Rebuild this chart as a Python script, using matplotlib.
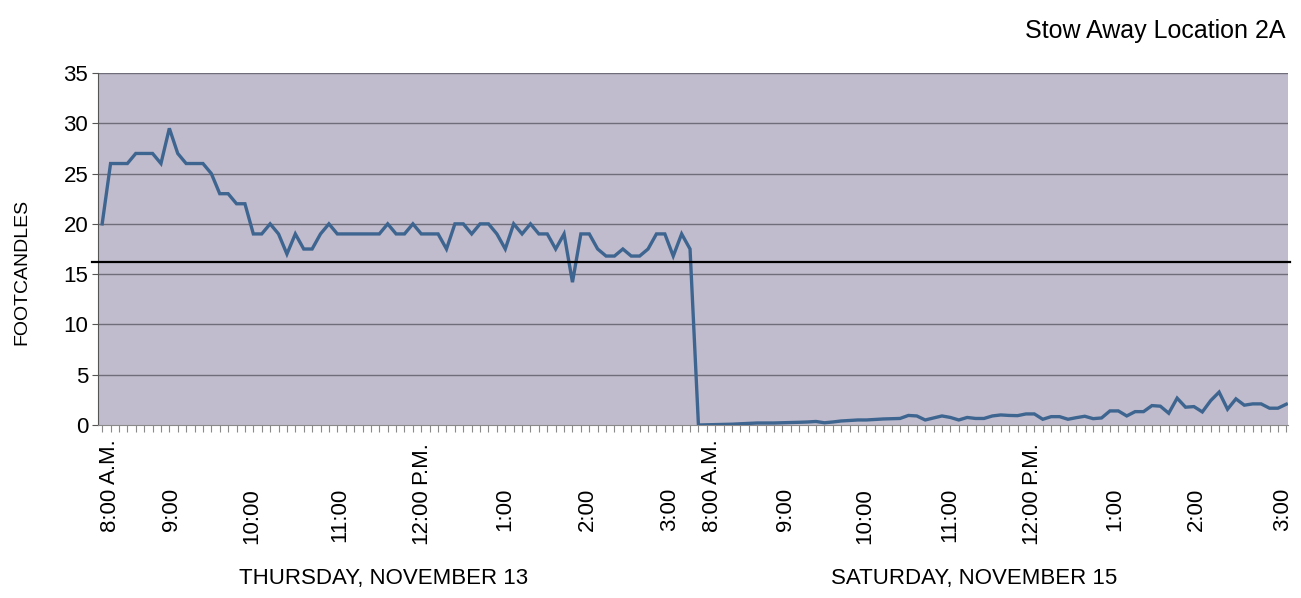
import matplotlib
matplotlib.use("Agg")
import matplotlib.pyplot as plt
import matplotlib.transforms as mtransforms
import numpy as np

# footcandle readings, one every ~6 minutes
thursday = [
    20, 26, 26, 26, 27, 27, 27, 26, 29.5, 27,
    26, 26, 26, 25, 23, 23, 22, 22, 19, 19,
    20, 19, 17, 19, 17.5, 17.5, 19, 20, 19, 19,
    19, 19, 19, 19, 20, 19, 19, 20, 19, 19,
    19, 17.5, 20, 20, 19, 20, 20, 19, 17.5, 20,
    19, 20, 19, 19, 17.5, 19, 14.2, 19, 19, 17.5,
    16.8, 16.8, 17.5, 16.8, 16.8, 17.5, 19, 19, 16.8, 19, 17.5,
]
saturday = [
    0, 0.02, 0.04, 0.06, 0.08, 0.12, 0.16, 0.2, 0.2, 0.2,
    0.22, 0.24, 0.27, 0.3, 0.35, 0.22, 0.3, 0.4, 0.45, 0.5,
    0.5, 0.55, 0.6, 0.62, 0.65, 0.95, 0.9, 0.5, 0.7, 0.9,
    0.75, 0.5, 0.75, 0.65, 0.65, 0.9, 1.0, 0.95, 0.93, 1.1,
    1.1, 0.57, 0.83, 0.83, 0.57, 0.73, 0.87, 0.63, 0.7, 1.4,
    1.4, 0.9, 1.33, 1.33, 1.93, 1.87, 1.17, 2.67, 1.77, 1.83,
    1.3, 2.43, 3.27, 1.57, 2.6, 1.97, 2.1, 2.1, 1.67, 1.67, 2.07,
]
threshold = 16.2

hour_labels = ["8:00", "9:00", "10:00", "11:00", "12:00", "1:00", "2:00", "3:00"]
hour_suffix = ["A.M.", "", "", "", "P.M.", "", "", ""]
day_labels = ["THURSDAY, NOVEMBER 13", "SATURDAY, NOVEMBER 15"]
title = "Stow Away Location 2A"
y_ticks = [0, 5, 10, 15, 20, 25, 30, 35]

# label positions (in sample index units), as placed on the original
thu_label_pos = [0.9, 8.3, 17.8, 28.3, 37.9, 47.9, 57.8, 67.6]
sat_label_pos = [72.6, 81.4, 90.8, 100.9, 110.6, 120.6, 130.3, 140.6]

BG = "#C0BCCD"
LINE = "#3E6590"
FONT = ["Liberation Sans", "DejaVu Sans"]

values = np.array(thursday + saturday, dtype=float)
x = np.arange(len(values))

fig = plt.figure(figsize=(13.01, 5.98), dpi=100)
ax = fig.add_axes([0.0753, 0.2893, 0.9147, 0.5886])
ax.set_facecolor(BG)

for v in y_ticks[1:]:
    ax.axhline(v, color="#6F6D7A", lw=1.0, zorder=1)

ax.plot(x, values, color=LINE, lw=2.4, zorder=3, solid_joinstyle="miter")
ax.axhline(threshold, xmin=-0.005, xmax=1.002, color="black", lw=1.6, zorder=4, clip_on=False)

ax.set_xlim(-0.5, 141.2)
ax.set_ylim(0, 35)
ax.set_yticks(y_ticks)
ax.set_yticklabels([str(v) for v in y_ticks], fontsize=16, family=FONT)
ax.tick_params(axis="y", length=4, color="#555555", pad=3)

ax.set_xticks([])
ax.set_xticks(x, minor=True)
ax.tick_params(axis="x", which="minor", length=5, color="#8A8A8A", width=0.8)

# hour labels: time part hangs below a common line, A.M./P.M. goes above it
trans = mtransforms.blended_transform_factory(ax.transData, fig.transFigure)
y_split = 1 - 488 / 598
for pos in (thu_label_pos, sat_label_pos):
    for p, lab, suf in zip(pos, hour_labels, hour_suffix):
        ax.text(p, y_split, lab, rotation=90, ha="center", va="top",
                fontsize=16, family=FONT, transform=trans, clip_on=False)
        if suf:
            ax.text(p, y_split + 0.006, suf, rotation=90, ha="center", va="bottom",
                    fontsize=16, family=FONT, transform=trans, clip_on=False)

for side in ["top", "right"]:
    ax.spines[side].set_visible(False)
ax.spines["left"].set_color("#555555")
ax.spines["bottom"].set_color("#8A8A8A")

fig.text(0.017, 0.545, "FOOTCANDLES", rotation=90, ha="center", va="center",
         fontsize=14, family=FONT)
fig.text(0.295, 0.033, day_labels[0], ha="center", va="center", fontsize=16, family=FONT)
fig.text(0.749, 0.033, day_labels[1], ha="center", va="center", fontsize=16, family=FONT)
fig.text(0.988, 0.948, title, ha="right", va="center", fontsize=18, family=FONT)

fig.savefig("out.png", dpi=100)
